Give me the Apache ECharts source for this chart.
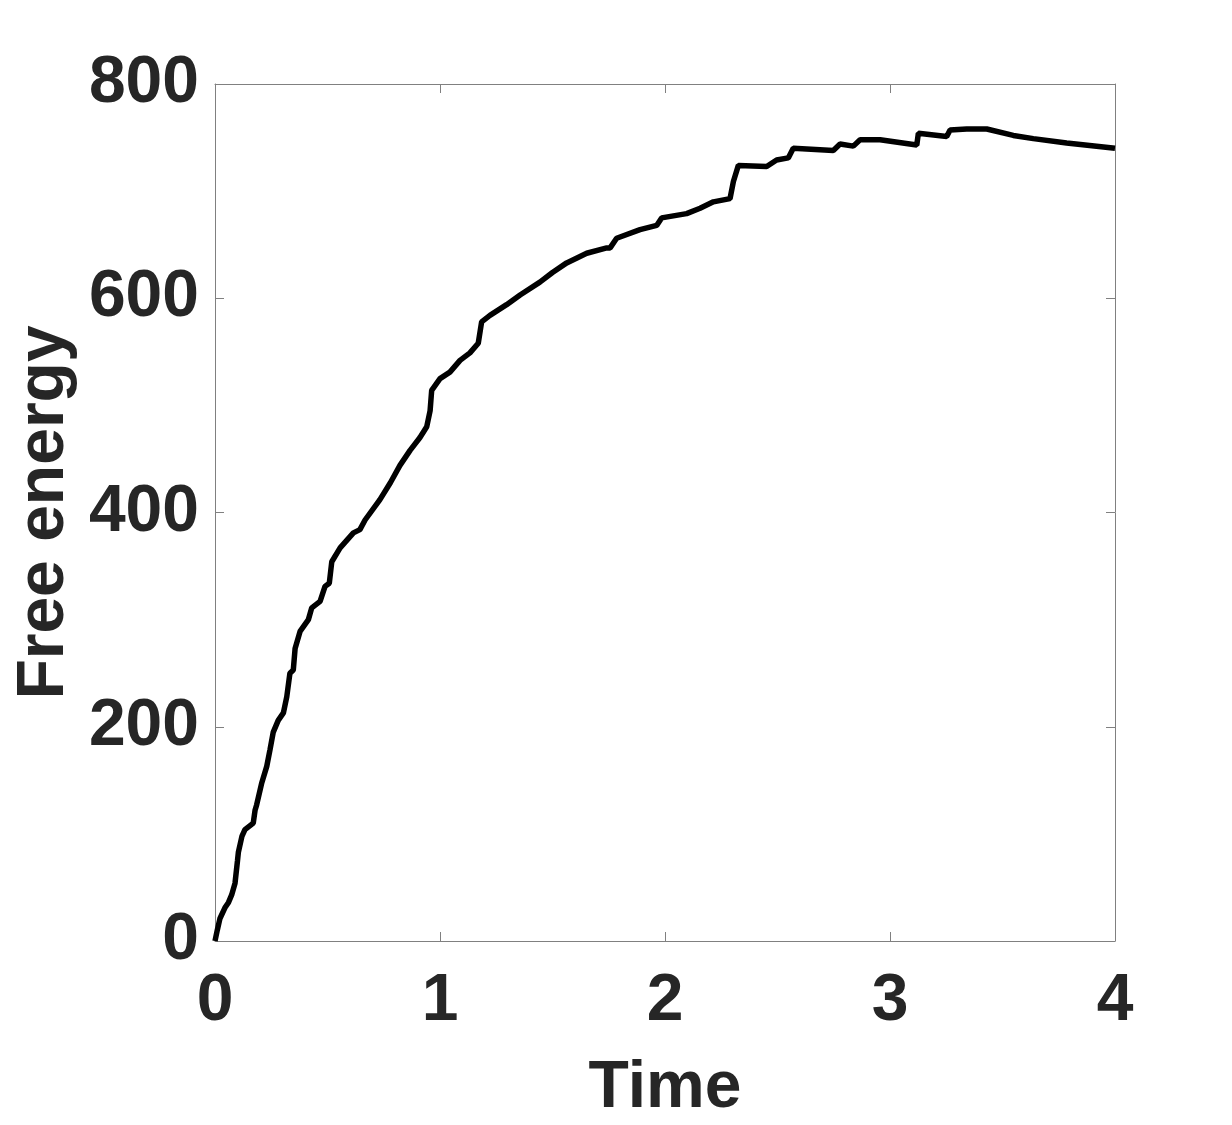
<!DOCTYPE html>
<html>
<head>
<meta charset="utf-8">
<script src="https://cdn.jsdelivr.net/npm/echarts@6/dist/echarts.min.js"></script>
<style>
  html, body { margin: 0; padding: 0; background: #fff; }
  #chart { width: 1232px; height: 1125px; }
</style>
</head>
<body>
<div id="chart"></div>
<script>
// time samples
const times = [
  0, 0.01, 0.022, 0.044, 0.06, 0.074, 0.089, 0.1, 0.104, 0.12, 0.133, 0.17, 0.178, 0.185,
  0.207, 0.23, 0.244, 0.259, 0.281, 0.304, 0.319, 0.333, 0.348, 0.356, 0.378, 0.415, 0.43,
  0.467, 0.489, 0.508, 0.519, 0.556, 0.615, 0.644, 0.667, 0.733, 0.78, 0.822, 0.867, 0.911,
  0.941, 0.956, 0.963, 1.0, 1.044, 1.089, 1.133, 1.17, 1.185, 1.222, 1.296, 1.356, 1.444,
  1.5, 1.563, 1.652, 1.741, 1.756, 1.785, 1.889, 1.963, 1.985, 2.096, 2.156, 2.215, 2.289,
  2.304, 2.326, 2.452, 2.496, 2.548, 2.57, 2.748, 2.778, 2.837, 2.867, 2.956, 3.119, 3.126,
  3.252, 3.267, 3.341, 3.43, 3.548, 3.637, 3.785, 4.0
]
// free energy values
const energy = [
  0, 10, 21, 31, 36, 43, 54, 75, 83, 98, 104, 110, 122, 127,
  147, 163, 178, 195, 206, 213, 228, 250, 253, 273, 289, 300, 311,
  317, 331, 334, 354, 367, 381, 384, 393, 412, 428, 444, 458, 470,
  480, 495, 514, 525, 531, 542, 549, 558, 578, 584, 594, 603, 615,
  624, 633, 642, 647, 647, 656, 664, 668, 675, 679, 684, 690, 693,
  709, 724, 723, 729, 731, 740, 738, 744, 742, 748, 748, 743, 754,
  751, 757, 758, 758, 752, 749, 745, 740
]
const xTicks = [0, 1, 2, 3, 4]
const yTicks = [0, 200, 400, 600, 800]

const textColor = '#262626'
const boxColor = '#808080'
const font = 'Liberation Sans, Arial, sans-serif'

// frame axes: line + inward ticks, no grid lines
const boxAxis = () => ({
  axisLine: { show: true, onZero: false, lineStyle: { color: boxColor, width: 1 } },
  axisTick: { show: true, inside: true, length: 9, lineStyle: { color: boxColor, width: 1 } },
  splitLine: { show: false }
})

const option = {
  animation: false,
  backgroundColor: '#fff',
  // fixed plot box, labels must not squeeze it
  grid: { left: 215, right: 117, top: 84, bottom: 184, containLabel: false, outerBoundsMode: 'none' },
  xAxis: [
    {
      type: 'value',
      min: xTicks[0],
      max: xTicks[xTicks.length - 1],
      interval: 1,
      position: 'bottom',
      ...boxAxis(),
      axisLabel: { color: textColor, fontFamily: font, fontWeight: 'bold', fontSize: 66, margin: 28 },
      name: 'Time',
      nameLocation: 'middle',
      nameGap: 115,
      nameTextStyle: { color: textColor, fontFamily: font, fontWeight: 'bold', fontSize: 66 }
    },
    {
      type: 'value',
      min: xTicks[0],
      max: xTicks[xTicks.length - 1],
      interval: 1,
      position: 'top',
      ...boxAxis(),
      axisLabel: { show: false }
    }
  ],
  yAxis: [
    {
      type: 'value',
      min: yTicks[0],
      max: yTicks[yTicks.length - 1],
      interval: 200,
      position: 'left',
      ...boxAxis(),
      axisLabel: {
        color: textColor, fontFamily: font, fontWeight: 'bold', fontSize: 66, margin: 16,
        padding: [8, 0, 0, 0]
      },
      name: 'Free energy',
      nameLocation: 'middle',
      nameGap: 132,
      nameTextStyle: { color: textColor, fontFamily: font, fontWeight: 'bold', fontSize: 66 }
    },
    {
      type: 'value',
      min: yTicks[0],
      max: yTicks[yTicks.length - 1],
      interval: 200,
      position: 'right',
      ...boxAxis(),
      axisLabel: { show: false }
    }
  ],
  series: [
    {
      type: 'line',
      data: times.map((t, i) => [t, energy[i]]),
      showSymbol: false,
      smooth: false,
      lineStyle: { color: '#000', width: 5.5 },
      clip: true
    }
  ]
}

const myChart = echarts.init(document.getElementById('chart'), null, { renderer: 'canvas' })
myChart.setOption(option)
</script>
</body>
</html>
